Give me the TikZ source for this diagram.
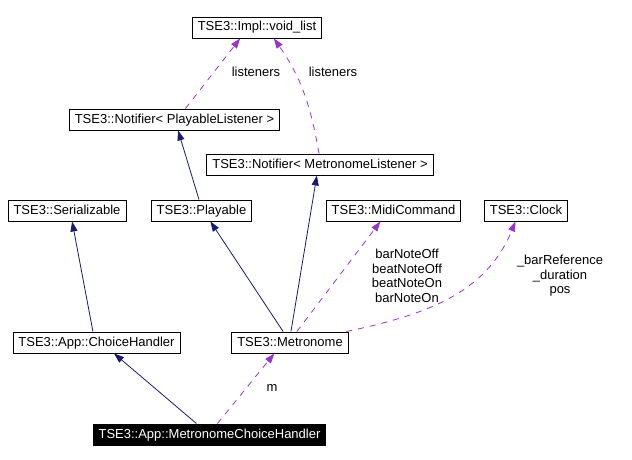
\documentclass[tikz,border=0pt]{standalone}
\usepackage{fontspec}
\setmainfont{Liberation Sans}
\usetikzlibrary{arrows.meta}
\definecolor{inhblue}{HTML}{191970}
\definecolor{usepurple}{HTML}{9A32CD}
\tikzset{
  cls/.style={draw, fill=white, line width=0.9pt, minimum height=21pt, inner xsep=5.5pt,
    inner ysep=0pt, text height=9.5pt, text depth=2.5pt, font=\fontsize{13}{15}\selectfont},
  inh/.style={draw=inhblue, line width=0.8pt, -{Triangle[length=10pt,width=7pt]}},
  usage/.style={draw=usepurple, line width=0.8pt, dash pattern=on 6pt off 6pt,
    -{Triangle[length=10pt,width=7pt]}},
  lbl/.style={align=center, inner sep=0pt, font=\fontsize{13}{14.6}\selectfont}
}
\begin{document}
\begin{tikzpicture}[x=1pt, y=-1pt]
\useasboundingbox (0,0) rectangle (632,460);
\foreach \n/\x/\y/\t in {void/257/27.5/TSE3::Impl::void\_list,
    notifP/174.5/119.5/TSE3::Notifier< PlayableListener >,
    notifM/320/164.5/TSE3::Notifier< MetronomeListener >,
    serial/67/210.5/TSE3::Serializable,
    playable/201.5/210.5/TSE3::Playable,
    midi/393.5/210.5/TSE3::MidiCommand,
    clock/526/210.5/TSE3::Clock,
    choice/96.5/342.5/TSE3::App::ChoiceHandler,
    metro/290/342.5/TSE3::Metronome}{
  \node[cls] (\n) at (\x,\y) {\t};
}
\node[cls, fill=black, text=white] (mch) at (209.5,434.5) {TSE3::App::MetronomeChoiceHandler};
% inheritance
\foreach \a/\b in {choice.108/serial.295, mch.140/choice.328, metro.122/playable.309,
    playable.103/notifP.288, metro.85/notifM.254}{
  \draw[inh] (\a) -- (\b);
}
% usage
\draw[usage] (notifP.45) -- (void.213);
\draw[usage] (notifM.95) to[out=100, in=-55] (void.327);
\draw[usage] (metro.58) -- (midi.220);
\draw[usage] (metro.11) to[out=12, in=-112] (clock.226);
\draw[usage] (mch.54) -- (metro.215);
\node[lbl] (lstP) at (256,72) {listeners};
\node[lbl] (lstM) at (333,72) {listeners};
\node[lbl] (notes) at (407,276) {barNoteOff\\beatNoteOff\\beatNoteOn\\barNoteOn};
\node[lbl] (clk) at (560,276) {\_barReference\\\_duration\\pos};
\node[lbl] (mlbl) at (272,388) {m};
\end{tikzpicture}
\end{document}
